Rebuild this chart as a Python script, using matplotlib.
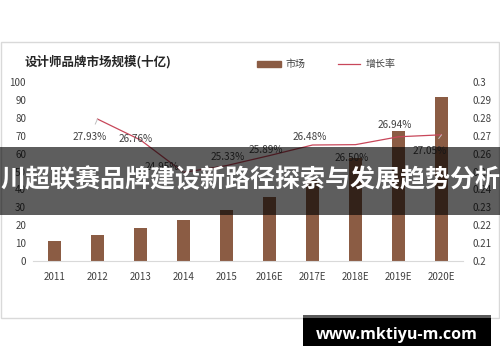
import matplotlib
matplotlib.use("Agg")
import matplotlib.pyplot as plt
from matplotlib.patches import Rectangle
from matplotlib.lines import Line2D

plt.rcParams['font.family'] = ['Noto Sans CJK SC', 'DejaVu Sans']

# data
years = ["2011", "2012", "2013", "2014", "2015",
         "2016E", "2017E", "2018E", "2019E", "2020E"]
market = [11.2, 14.4, 18.3, 22.8, 28.5, 36.0, 45.3, 57.4, 72.6, 91.8]
growth_years = years[1:]
growth = [0.2793, 0.2676, 0.2495, 0.2533, 0.2589, 0.2648, 0.2650, 0.2694, 0.2705]

title = "设计师品牌市场规模(十亿)"
legend_labels = ["市场", "增长率"]
banner = "川超联赛品牌建设新路径探索与发展趋势分析"
watermark = "www.mktiyu-m.com"

W, H = 500, 362
bar_color = "#8B5C44"
line_color = "#C8475A"
text_color = "#404040"


def px(x, y):
    """pixel position (from top-left) -> figure fraction"""
    return x / W, (H - y) / H


fig = plt.figure(figsize=(W / 100, H / 100), dpi=100)
fig.patch.set_facecolor("white")

# chart frame
x0, y0 = px(1, 318)
fig.add_artist(Rectangle((x0, y0), 498 / W, 276 / H, transform=fig.transFigure,
                         fill=False, edgecolor="#D9D9D9", lw=1, zorder=0))

left, bottom = px(33, 261)
right, top = px(463, 82)
ax = fig.add_axes([left, bottom, right - left, top - bottom])
ax2 = ax.twinx()

xs = list(range(len(years)))
ax.bar(xs, market, width=0.31, color=bar_color, zorder=2)
ax.set_xlim(-0.5, len(years) - 0.5)
ax.set_ylim(0, 100)
ax.set_yticks(range(0, 101, 10))
ax.set_xticks(xs)
ax.set_xticklabels(years)

gx = [years.index(y) for y in growth_years]
ax2.plot(gx, growth, color=line_color, lw=0.9, zorder=3)
ax2.set_ylim(0.2, 0.3)
ax2.set_yticks([0.2 + i * 0.01 for i in range(11)])
ax2.set_yticklabels(["0.2", "0.21", "0.22", "0.23", "0.24", "0.25",
                     "0.26", "0.27", "0.28", "0.29", "0.3"])

for a in (ax, ax2):
    for s in a.spines.values():
        s.set_visible(False)
    a.tick_params(length=0, labelsize=7, colors=text_color)
ax.spines["bottom"].set_visible(True)
ax.spines["bottom"].set_color("#D9D9D9")
ax.tick_params(axis="y", pad=5)
ax.tick_params(axis="x", pad=8)
ax2.tick_params(axis="y", pad=6.5)

# data labels, offsets in pixels (dx, dy up)
offsets = [(-8, -18), (-5, 1), (-22, 5), (1, 9), (-4, 6),
           (-3, 8), (-4, -13), (-4, 12), (-12, -16)]
for x, v, (dx, dy) in zip(gx, growth, offsets):
    lead = abs(dx) + abs(dy) > 17
    ax2.annotate(f"{v * 100:.2f}%", (x, v), xytext=(dx * 0.72, dy * 0.72),
                 textcoords="offset points", ha="center", va="center",
                 fontsize=7.2, color=text_color, zorder=4,
                 arrowprops=dict(arrowstyle="-", color="#BFBFBF", lw=0.7,
                                 shrinkA=4, shrinkB=0) if lead else None)

# title and legend
tx, ty = px(25, 62)
fig.text(tx, ty, title, fontsize=9, fontweight="bold", color="#262626",
         ha="left", va="center")
rx, ry = px(257, 67)
fig.add_artist(Rectangle((rx, ry), 24 / W, 6 / H, transform=fig.transFigure,
                         color=bar_color))
lx, ly = px(285, 64)
fig.text(lx, ly, legend_labels[0], fontsize=7.2, color=text_color, va="center")
a1, b1 = px(338, 64)
a2, _ = px(360, 64)
fig.add_artist(Line2D([a1, a2], [b1, b1], transform=fig.transFigure,
                      color=line_color, lw=0.9))
lx, ly = px(366, 64)
fig.text(lx, ly, legend_labels[1], fontsize=7.2, color=text_color, va="center")

# dark banner with title text
bx, by = px(0, 215)
fig.add_artist(Rectangle((bx, by), 1, 68 / H, transform=fig.transFigure,
                         color="black", alpha=0.63, lw=0, zorder=10))
cx, cy = px(250, 180)
fig.text(cx, cy, banner, fontsize=18, fontweight="bold", color="white",
         ha="center", va="center", zorder=11)

# watermark box
sx, sy = px(303, 318)
fig.add_artist(Rectangle((sx, sy), 188 / W, 3 / H, transform=fig.transFigure,
                         color="#5A5A5A", lw=0, zorder=10))
kx, ky = px(303, 346)
fig.add_artist(Rectangle((kx, ky), 188 / W, 28 / H, transform=fig.transFigure,
                         color="black", lw=0, zorder=10))
wx, wy = px(397, 335)
fig.text(wx, wy, watermark, fontsize=11.5, fontweight="bold", color="white",
         family=["Open Sans", "DejaVu Sans"], ha="center", va="center", zorder=11)

fig.savefig("out.png", dpi=100)
